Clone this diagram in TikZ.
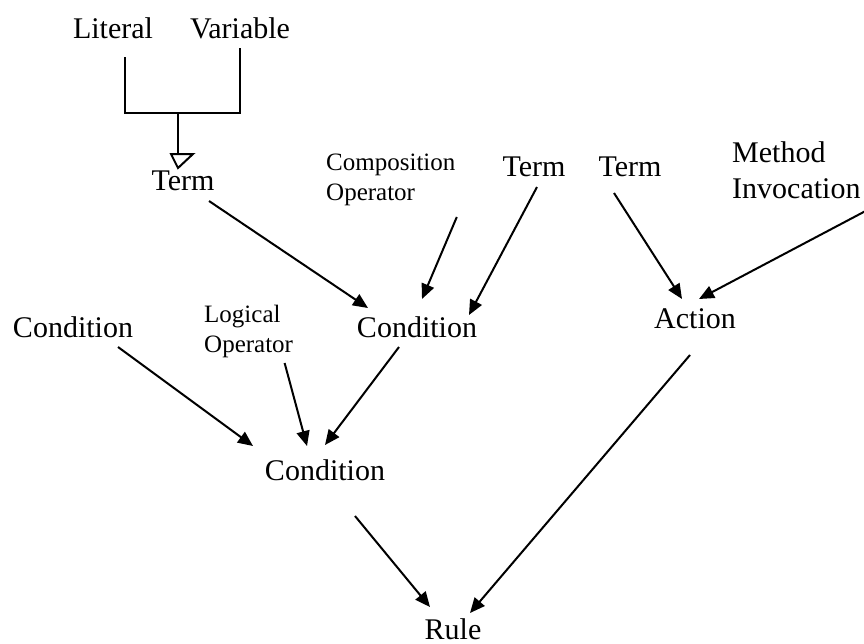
\documentclass[tikz,border=0pt]{standalone}
\usepackage{fontspec}
\setmainfont{Liberation Serif}
\usetikzlibrary{arrows.meta,calc}

\tikzset{
  big/.style={font=\fontsize{30}{36}\selectfont, inner sep=0pt, anchor=base},
  small/.style={font=\fontsize{25}{30}\selectfont, inner sep=0pt, anchor=base west, align=left},
  bigleft/.style={font=\fontsize{30}{36}\selectfont, inner sep=0pt, anchor=base west, align=left},
  line/.style={line width=2pt},
  arr/.style={line width=2pt, -{Triangle[length=15pt,width=13pt]}},
}

\begin{document}
\begin{tikzpicture}[x=1pt,y=-1pt]
\useasboundingbox (0,0) rectangle (864,643);

% terms and operators (multi-line nodes sit on the baseline of their last line)
\node[big] (lit)    at (113,38)  {Literal};
\node[big] (var)    at (240,38)  {Variable};
\node[big] (term1)  at (183,190) {Term};
\node[small] (comp) at (326,200) {Composition\\Operator};
\node[big] (term2)  at (534,176) {Term};
\node[big] (term3)  at (630,176) {Term};
\node[bigleft] (meth) at (732,198) {Method\\Invocation};
\node[big] (condL)  at (73,337)  {Condition};
\node[small] (logic) at (204,352) {Logical\\Operator};
\node[big] (condM)  at (417,337) {Condition};
\node[big] (action) at (695,328) {Action};
\node[big] (condB)  at (325,480) {Condition};
\node[big] (rule)   at (453,639) {Rule};

% generalisation: Literal and Variable are kinds of Term
\coordinate (join) at (178,113);
\draw[line] ($(lit.base)+(12,19)$) |- ($(var.base)+(0,75)$) -- ($(var.base)+(0,10)$);
\draw[line] (join) -- ($(term1.base)+(-5,-36)$);
\draw[line, line join=miter] ($(term1.base)+(-12,-36)$) -- ($(term1.base)+(10,-36)$)
  -- ($(term1.base)+(-5,-22)$) -- cycle;

% composition arrows
\draw[arr] ($(term1.base)+(26,11)$)  -- ($(condM.base)+(-49,-29)$);
\draw[arr] ($(comp.base)+(66,17)$)   -- ($(condM.base)+(5,-38)$);
\draw[arr] ($(term2.base)+(3,11)$)   -- ($(condM.base)+(52,-22)$);
\draw[arr] ($(term3.base)+(-16,17)$) -- ($(action.base)+(-13,-29)$);
\draw[arr] ($(meth.base)+(73,11)$)   -- ($(action.base)+(4,-29)$);
\draw[arr] ($(condL.base)+(45,10)$)  -- ($(condB.base)+(-72,-34)$);
\draw[arr] ($(logic.base)+(36,11)$)  -- ($(condB.base)+(-18,-34)$);
\draw[arr] ($(condM.base)+(-18,10)$) -- ($(condB.base)+(0,-35)$);
\draw[arr] ($(condB.base)+(30,36)$)  -- ($(rule.base)+(-23,-32)$);
\draw[arr] ($(action.base)+(-5,27)$) -- ($(rule.base)+(17,-26)$);
\end{tikzpicture}
\end{document}
